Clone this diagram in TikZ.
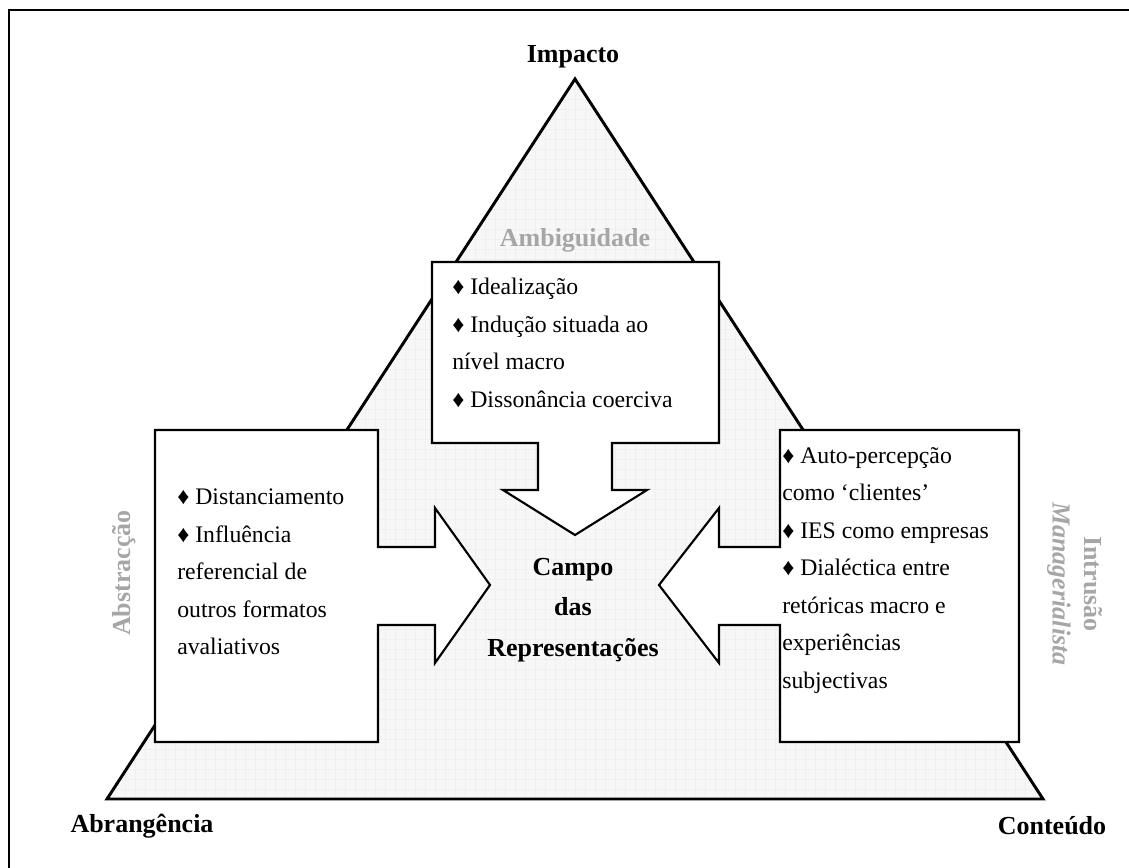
\documentclass[tikz,border=0pt]{standalone}
\usepackage{fontspec}
\setmainfont{Liberation Serif}
\usetikzlibrary{positioning}
\tikzset{
        field/.style={ % the triangle behind everything
            draw, line width=2.2pt, line join=miter,
            fill=gray!6},
        gridline/.style={draw=gray!12, line width=0.3pt},
        arrowbox/.style={ % white boxes that turn into arrows
            draw, line width=1.6pt, line join=miter,
            fill=white},
        corner/.style={font=\fontsize{19.5}{22}\selectfont\bfseries},
        pull/.style={font=\fontsize{19.5}{24}\selectfont\bfseries, text=gray!70},
        items/.style={ % bullet lists in the boxes
            align=left, anchor=north west, inner sep=0pt,
            font=\fontsize{17.8}{28.1}\selectfont}
        }

\begin{document}
\begin{tikzpicture}[x=0.75pt, y=-0.75pt]
    \useasboundingbox (0,0) rectangle (1129,868);
    \draw[line width=2.2pt] (9,10) rectangle (1140,880);

    % triangle with its faint grid
    \coordinate (apex) at (575,79);
    \coordinate (bl) at (107,799);
    \coordinate (br) at (1043,799);
    \fill[gray!6] (apex) -- (bl) -- (br) -- cycle;
    \begin{scope}
        \clip (apex) -- (bl) -- (br) -- cycle;
        \foreach \x in {105,115,...,1045}
            \draw[gridline] (\x,75) -- (\x,800);
        \foreach \y in {79,89,...,799}
            \draw[gridline] (100,\y) -- (1050,\y);
    \end{scope}
    \draw[field, fill=none] (apex) -- (bl) -- (br) -- cycle;

    % the three arrows
    \draw[arrowbox] (432,262) -- (719,262) -- (719,443) -- (612,443) -- (612,490)
        -- (647,490) -- (575,535) -- (503,490) -- (538,490) -- (538,443)
        -- (432,443) -- cycle;
    \draw[arrowbox] (155,430) -- (378,430) -- (378,547) -- (435,547) -- (435,508)
        -- (490,585) -- (435,663) -- (435,625) -- (378,625) -- (378,742)
        -- (155,742) -- cycle;
    \draw[arrowbox] (780,430) -- (1019,430) -- (1019,742) -- (780,742) -- (780,625)
        -- (719,625) -- (719,663) -- (659,585) -- (719,508) -- (719,547)
        -- (780,547) -- cycle;

    % lists
    \node[items] (ambig) at (452,278) {♦ Idealização\\♦ Indução situada ao\\nível macro\\♦ Dissonância coerciva};
    \node[items] (abstr) at (177,489) {♦ Distanciamento\\♦ Influência\\referencial de\\outros formatos\\avaliativos};
    \node[items] (intru) at (782,447) {♦ Auto-percepção\\como ‘clientes’\\♦ IES como empresas\\♦ Dialéctica entre\\retóricas macro e\\experiências\\subjectivas};

    % centre
    \node[corner, align=center, font=\fontsize{19.5}{30.5}\selectfont\bfseries] (campo) at (573,610)
        {Campo\\das\\Representações};

    % corners
    \node[corner] (impacto) at (573,57) {Impacto};
    \node[corner] (abrang) at (142,826) {Abrangência};
    \node[corner] (conteudo) at (1052,826) {Conteúdo};

    % pulls on the field
    \node[pull] (pAmbig) at (575,240) {Ambiguidade};
    \node[pull, rotate=90] (pAbstr) at (124,573) {Abstracção};
    \node[pull, rotate=-90, align=center] (pIntru) at (1075,584)
        {Intrusão\\{\itshape Managerialista}};
\end{tikzpicture}
\end{document}
